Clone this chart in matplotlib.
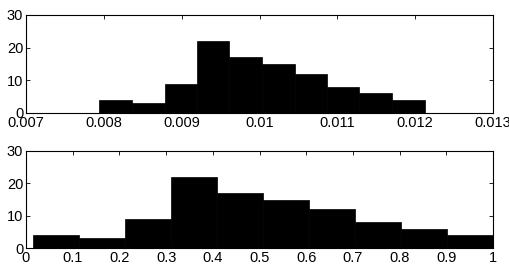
import numpy as np
import matplotlib
matplotlib.use('Agg')
import matplotlib.pyplot as plt

plt.rcParams['font.family'] = ['Liberation Sans', 'DejaVu Sans']

# histogram counts (same in both panels)
counts = [4, 3, 9, 22, 17, 15, 12, 8, 6, 4]

# bin edges
top_edges = [0.00794, 0.00836, 0.00878, 0.00920, 0.00961, 0.01003,
             0.01045, 0.01087, 0.01128, 0.01170, 0.01212]
bottom_edges = [0.015, 0.1135, 0.212, 0.3105, 0.409, 0.5075,
                0.606, 0.7045, 0.803, 0.9015, 1.0]

top_xticks = [0.007, 0.008, 0.009, 0.01, 0.011, 0.012, 0.013]
top_xlabels = ['0.007', '0.008', '0.009', '0.01', '0.011', '0.012', '0.013']
bottom_xticks = [0, 0.1, 0.2, 0.3, 0.4, 0.5, 0.6, 0.7, 0.8, 0.9, 1]
bottom_xlabels = ['0', '0.1', '0.2', '0.3', '0.4', '0.5', '0.6', '0.7', '0.8', '0.9', '1']
yticks = [0, 10, 20, 30]


def draw_hist(ax, edges, xlim, xticks, xlabels):
    edges = np.array(edges)
    ax.bar(edges[:-1], counts, width=np.diff(edges), align='edge',
           color='black', edgecolor='black', linewidth=0.5)
    ax.set_xlim(*xlim)
    ax.set_ylim(0, 30)
    ax.set_xticks(xticks)
    ax.set_xticklabels(xlabels)
    ax.set_yticks(yticks)
    ax.tick_params(direction='in', top=True, right=True, length=3,
                   labelsize=10.5, pad=2, width=0.6)
    for s in ax.spines.values():
        s.set_linewidth(0.8)


fig = plt.figure(figsize=(5.09, 2.76), dpi=100)
ax1 = fig.add_axes([26 / 509, 1 - 113 / 276, 467 / 509, 98 / 276])
ax2 = fig.add_axes([26 / 509, 1 - 248 / 276, 467 / 509, 97 / 276])

draw_hist(ax1, top_edges, (0.007, 0.013), top_xticks, top_xlabels)
draw_hist(ax2, bottom_edges, (0, 1), bottom_xticks, bottom_xlabels)

fig.savefig('out.png', dpi=100)
